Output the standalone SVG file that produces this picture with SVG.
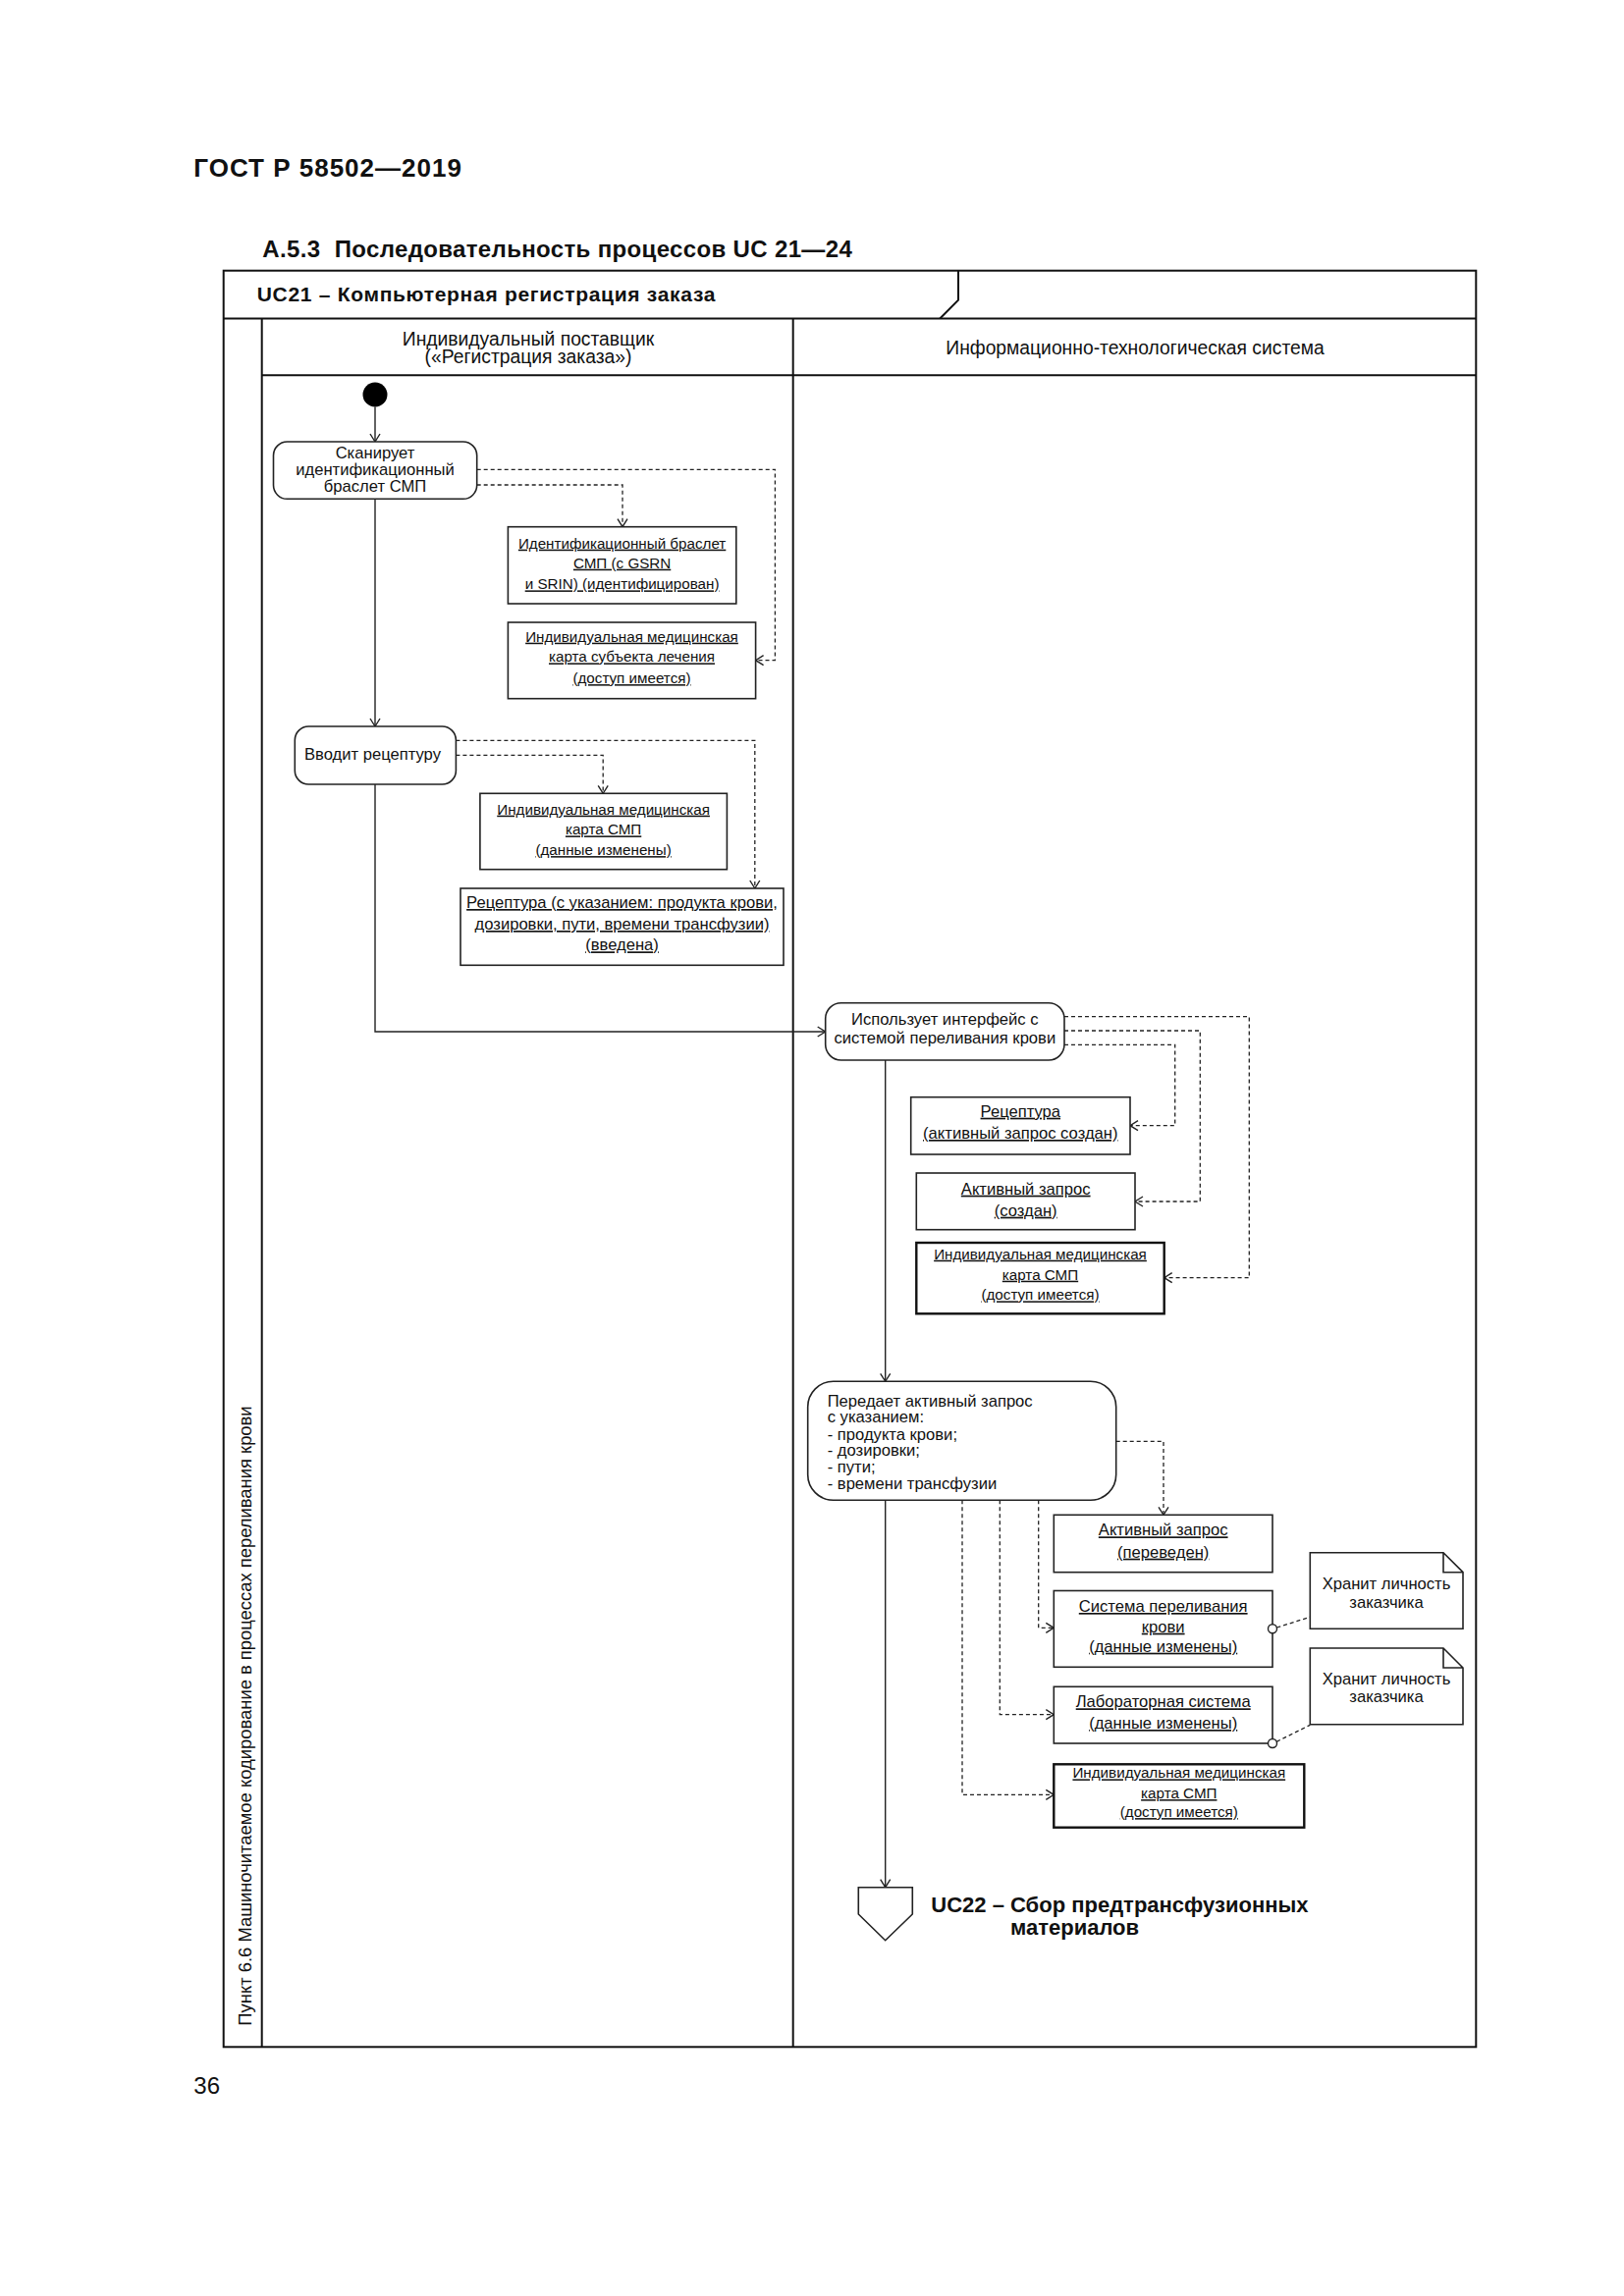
<svg xmlns="http://www.w3.org/2000/svg" width="1654" height="2339" viewBox="0 0 1654 2339">
<style>
text{font-family:"Liberation Sans",Arial,sans-serif;fill:#111}
.b{font-weight:bold}
.t{font-size:16.6px}
.s{font-size:15.2px}
.c{text-anchor:middle}
.u{text-decoration:underline;text-underline-offset:3px}
.lane{font-size:19.3px;text-anchor:middle}
.frame{fill:none;stroke:#111;stroke-width:2}
.act{fill:#fff;stroke:#222;stroke-width:1.6}
.obj{fill:#fff;stroke:#222;stroke-width:1.6}
.objb{fill:#fff;stroke:#111;stroke-width:2.4}
.flow{fill:none;stroke:#222;stroke-width:1.4;marker-end:url(#arr)}
.dep{fill:none;stroke:#222;stroke-width:1.3;stroke-dasharray:4 3;marker-end:url(#arr)}
.link{fill:none;stroke:#222;stroke-width:1.3;stroke-dasharray:4 3}
</style>
<defs>
<marker id="arr" markerUnits="userSpaceOnUse" markerWidth="12" markerHeight="12" refX="9" refY="6" orient="auto">
<path d="M1,1 L9,6 L1,11" fill="none" stroke="#222" stroke-width="1.4"/>
</marker>
</defs>
<rect width="1654" height="2339" fill="#fff"/>

<text x="197.3" y="180" class="b" font-size="26" letter-spacing="1">ГОСТ Р 58502—2019</text>
<text y="261.7" class="b" font-size="24" letter-spacing="0.35"><tspan x="267.3">А.5.3</tspan><tspan x="340.7">Последовательность процессов UC 21—24</tspan></text>

<g id="frame">
<rect class="frame" x="227.7" y="275.7" width="1275.6" height="1809.6"/>
<line class="frame" x1="227.7" y1="324.5" x2="1503.3" y2="324.5"/>
<path class="frame" d="M976,275.7 V305.7 L957.3,324.5" stroke-width="1.6"/>
<line class="frame" x1="266.7" y1="324.5" x2="266.7" y2="2085.3"/>
<line class="frame" x1="807.7" y1="324.5" x2="807.7" y2="2085.3"/>
<line class="frame" x1="266.7" y1="382.3" x2="1503.3" y2="382.3"/>
<text x="261.7" y="306.7" class="b" font-size="21" letter-spacing="0.7">UC21 – Компьютерная регистрация заказа</text>
<text class="lane"><tspan x="538" y="351.7">Индивидуальный поставщик</tspan><tspan x="538" y="369.6">(«Регистрация заказа»)</tspan></text>
<text class="lane" x="1156" y="361">Информационно-технологическая система</text>
<text transform="translate(255.5,1748) rotate(-90)" text-anchor="middle" font-size="18.4">Пункт 6.6 Машиночитаемое кодирование в процессах переливания крови</text>
</g>

<g id="connectors">
<path class="flow" d="M382,414.5 V450"/>
<path class="flow" d="M382,508.3 V740"/>
<path class="flow" d="M382,799 V1051 H840.7"/>
<path class="flow" d="M901.7,1080 V1407.3"/>
<path class="flow" d="M901.7,1528.3 V1922.7"/>
<path class="dep" d="M485.7,478.3 H789.4 V672.7 H769.6"/>
<path class="dep" d="M485.7,494 H634 V536.7"/>
<path class="dep" d="M464.4,754.3 H768.8 V905"/>
<path class="dep" d="M464.4,769.3 H614.2 V808.3"/>
<path class="dep" d="M1084,1035.7 H1272.3 V1301.7 H1185.7"/>
<path class="dep" d="M1084,1050 H1222.3 V1224 H1156"/>
<path class="dep" d="M1084,1064.3 H1196.7 V1146.7 H1151"/>
<path class="dep" d="M1136.7,1468.3 H1185 V1543.3"/>
<path class="dep" d="M1057.7,1528.3 V1658.3 H1073.3"/>
<path class="dep" d="M1018.3,1528.3 V1746.7 H1073.3"/>
<path class="dep" d="M980,1528.3 V1828.3 H1073.3"/>
<path class="link" d="M1300.4,1658 L1334.3,1647.3"/>
<path class="link" d="M1300.2,1774.3 L1334.3,1757.3"/>
</g>

<g id="start"><circle cx="382" cy="402" r="12.5" fill="#000"/></g>

<g id="a1">
<rect class="act" x="278.5" y="450" width="207.2" height="58.3" rx="14"/>
<text class="t c"><tspan x="382" y="466.7">Сканирует</tspan><tspan x="382" y="484">идентификационный</tspan><tspan x="382" y="501">браслет СМП</tspan></text>
</g>

<g id="o1">
<rect class="obj" x="517.4" y="536.7" width="232.4" height="78.3"/>
<text class="s c u"><tspan x="633.6" y="558.7">Идентификационный браслет</tspan><tspan x="633.6" y="578.7">СМП (с GSRN</tspan><tspan x="633.6" y="600.4">и SRIN) (идентифицирован)</tspan></text>
</g>

<g id="o2">
<rect class="obj" x="517.4" y="634" width="252.2" height="77.7"/>
<text class="s c u"><tspan x="643.5" y="653.7">Индивидуальная медицинская</tspan><tspan x="643.5" y="674.4">карта субъекта лечения</tspan><tspan x="643.5" y="696.1">(доступ имеется)</tspan></text>
</g>

<g id="a2">
<rect class="act" x="300.3" y="740" width="164.1" height="59" rx="14"/>
<text class="t" x="310" y="774.3">Вводит рецептуру</text>
</g>

<g id="o3">
<rect class="obj" x="488.9" y="808.3" width="251.5" height="77.4"/>
<text class="s c u"><tspan x="614.6" y="829.7">Индивидуальная медицинская</tspan><tspan x="614.6" y="850.4">карта СМП</tspan><tspan x="614.6" y="871.1">(данные изменены)</tspan></text>
</g>

<g id="o4">
<rect class="obj" x="469" y="905" width="329" height="78.3"/>
<text class="t c u"><tspan x="633.5" y="925">Рецептура (с указанием: продукта крови,</tspan><tspan x="633.5" y="947">дозировки, пути, времени трансфузии)</tspan><tspan x="633.5" y="968.3">(введена)</tspan></text>
</g>

<g id="a3">
<rect class="act" x="840.7" y="1021.7" width="243.3" height="58.3" rx="16"/>
<text class="t c"><tspan x="962.3" y="1044.3">Использует интерфейс с</tspan><tspan x="962.3" y="1062.7">системой переливания крови</tspan></text>
</g>

<g id="r1">
<rect class="obj" x="927.7" y="1117.7" width="223.3" height="58.3"/>
<text class="t c u"><tspan x="1039.3" y="1137.7">Рецептура</tspan><tspan x="1039.3" y="1160">(активный запрос создан)</tspan></text>
</g>

<g id="r2">
<rect class="obj" x="933.3" y="1195" width="222.7" height="57.7"/>
<text class="t c u"><tspan x="1044.7" y="1216.7">Активный запрос</tspan><tspan x="1044.7" y="1238.7">(создан)</tspan></text>
</g>

<g id="r3">
<rect class="objb" x="933.3" y="1266" width="252.4" height="72.3"/>
<text class="s c u"><tspan x="1059.5" y="1282.7">Индивидуальная медицинская</tspan><tspan x="1059.5" y="1303.7">карта СМП</tspan><tspan x="1059.5" y="1324.4">(доступ имеется)</tspan></text>
</g>

<g id="a4">
<rect class="act" x="822.7" y="1407.3" width="314" height="121" rx="26"/>
<text class="t"><tspan x="842.7" y="1432.7">Передает активный запрос</tspan><tspan x="842.7" y="1449.3">с указанием:</tspan><tspan x="842.7" y="1466.7">- продукта крови;</tspan><tspan x="842.7" y="1483.3">- дозировки;</tspan><tspan x="842.7" y="1500.3">- пути;</tspan><tspan x="842.7" y="1516.7">- времени трансфузии</tspan></text>
</g>

<g id="b1">
<rect class="obj" x="1073.3" y="1543.3" width="222.7" height="58.4"/>
<text class="t c u"><tspan x="1184.7" y="1564.3">Активный запрос</tspan><tspan x="1184.7" y="1586.7">(переведен)</tspan></text>
</g>

<g id="b2">
<rect class="obj" x="1073.3" y="1620.5" width="222.7" height="77.8"/>
<text class="t c u"><tspan x="1184.7" y="1642">Система переливания</tspan><tspan x="1184.7" y="1662.7">крови</tspan><tspan x="1184.7" y="1682.7">(данные изменены)</tspan></text>
<circle cx="1296" cy="1659.3" r="4.5" fill="#fff" stroke="#222" stroke-width="1.4"/>
</g>

<g id="b3">
<rect class="obj" x="1073.3" y="1718.3" width="222.7" height="57.7"/>
<text class="t c u"><tspan x="1184.7" y="1739.3">Лабораторная система</tspan><tspan x="1184.7" y="1761">(данные изменены)</tspan></text>
<circle cx="1296" cy="1776" r="4.5" fill="#fff" stroke="#222" stroke-width="1.4"/>
</g>

<g id="b4">
<rect class="objb" x="1073.3" y="1797.3" width="255" height="64.4"/>
<text class="s c u"><tspan x="1200.8" y="1811.4">Индивидуальная медицинская</tspan><tspan x="1200.8" y="1832.1">карта СМП</tspan><tspan x="1200.8" y="1851.1">(доступ имеется)</tspan></text>
</g>

<g id="n1">
<path class="obj" d="M1334.3,1581.7 H1470 L1490,1601.7 V1659.3 H1334.3 Z M1470,1581.7 V1601.7 H1490"/>
<text class="t c"><tspan x="1412" y="1619.3">Хранит личность</tspan><tspan x="1412" y="1637.7">заказчика</tspan></text>
</g>

<g id="n2">
<path class="obj" d="M1334.3,1679 H1470 L1490,1699 V1756.7 H1334.3 Z M1470,1679 V1699 H1490"/>
<text class="t c"><tspan x="1412" y="1716">Хранит личность</tspan><tspan x="1412" y="1734.3">заказчика</tspan></text>
</g>

<g id="end">
<path class="act" d="M874.3,1922.7 H929.3 V1950 L901.7,1976.7 L874.3,1950 Z"/>
<text class="b" font-size="22"><tspan x="948.3" y="1948.3">UC22 – Сбор предтрансфузионных</tspan><tspan x="1029" y="1971">материалов</tspan></text>
</g>

<text x="197.3" y="2133.3" font-size="24">36</text>
</svg>
